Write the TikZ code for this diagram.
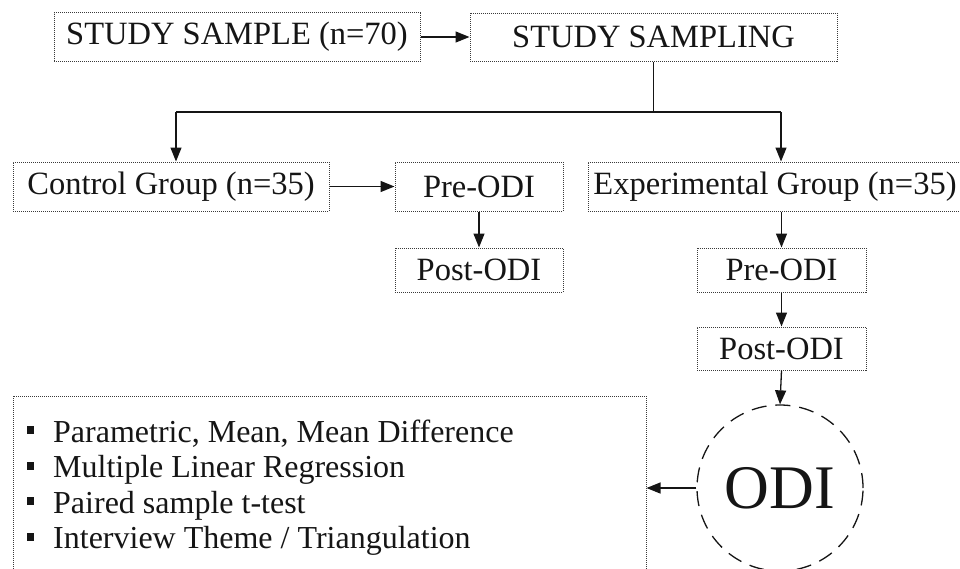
\documentclass[tikz,border=0pt]{standalone}
\usepackage{fontspec}
\setmainfont{Liberation Serif}
\usetikzlibrary{arrows.meta,calc}
\definecolor{ink}{HTML}{151515}
\definecolor{rim}{HTML}{3A3A3A}
\tikzset{
  box/.style={draw=rim, line width=1pt, densely dotted, inner sep=0pt,
    text=ink, font=\fontsize{32.5}{38}\selectfont},
  arr/.style={draw=ink, line width=1.3pt, -{Triangle[length=14pt,width=11pt]}},
  link/.style={draw=ink, line width=1.3pt},
  item/.style={anchor=base west, inner sep=0pt, text=ink,
    font=\fontsize{32}{38}\selectfont},
}
\begin{document}
\begin{tikzpicture}[x=1pt,y=-1pt]
\clip (0,0) rectangle (960,568);
\useasboundingbox (0,0) rectangle (960,568);

% top row
\node[box, minimum width=366pt, minimum height=49pt] (ss) at (237,37) {STUDY SAMPLE (n=70)};
\node[box, minimum width=367pt, minimum height=48pt] (sg) at (653.5,37) {STUDY SAMPLING};

% control branch
\node[box, minimum width=316pt, minimum height=49pt] (cg) at (171,186.5) {Control Group (n=35)};
\node[box, minimum width=168pt, minimum height=49pt] (cpre) at (479,186.5) {Pre-ODI};
\node[box, minimum width=168pt, minimum height=44pt] (cpost) at (479,270) {Post-ODI};

% experimental branch
\node[box, minimum width=374pt, minimum height=49pt] (eg) at (775,186.5) {Experimental Group (n=35)};
\node[box, minimum width=169pt, minimum height=44pt] (epre) at (781.5,270) {Pre-ODI};
\node[box, minimum width=169pt, minimum height=43pt] (epost) at (781.5,348.5) {Post-ODI};

% outcome measure
\node[circle, draw=ink, line width=1.3pt, dash pattern=on 15pt off 9pt,
  minimum size=166pt, inner sep=0pt, text=ink,
  font=\fontsize{62}{70}\selectfont] (odi) at (780,488) {ODI};

% analysis list
\node[box, minimum width=633pt, minimum height=180pt] (lst) at (329.5,486) {};
\node[item] (l1) at (53,442) {Parametric, Mean, Mean Difference};
\node[item] (l2) at (53,477.5) {Multiple Linear Regression};
\node[item] (l3) at (53,513) {Paired sample t-test};
\node[item] (l4) at (53,548.5) {Interview Theme / Triangulation};
\foreach \n in {l1,l2,l3,l4}
  \fill[ink] ($(\n.base west)+(-26,-16)$) rectangle ++(7,8);

% connectors
\coordinate (jl) at (176,112);
\coordinate (jr) at (781,112);
\draw[arr] (ss.east) -- (sg.west);
\draw[link] (sg.south) -- (sg.south |- jl);
\draw[link] (jl) -- (jr);
\draw[arr] (jl) -- (jl |- cg.north);
\draw[arr] (jr) -- (jr |- eg.north);
\draw[arr] (cg.east) -- (cpre.west);
\draw[arr] (cpre.south) -- (cpost.north);
\draw[arr] (epre.north |- eg.south) -- (epre.north);
\draw[arr] (epre.south) -- (epost.north);
\draw[arr] (epost.south) -- (odi.north);
\draw[arr] (odi.west) -- (lst.east |- odi.west);
\end{tikzpicture}
\end{document}
